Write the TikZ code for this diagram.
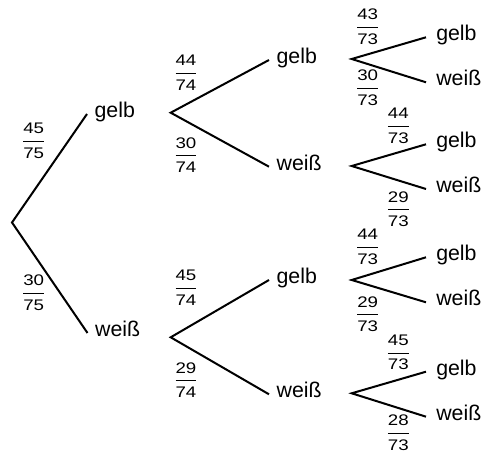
\documentclass[tikz,border=0pt]{standalone}
\usepackage{fontspec}
\setmainfont{Liberation Sans}
\newfontfamily\bruchfont[FakeStretch=1.22]{Liberation Sans}
\usetikzlibrary{positioning}
\newcommand{\bruch}[2]{{\renewcommand{\arraystretch}{0}\setlength{\arrayrulewidth}{0.8pt}%
  \begin{tabular}{@{}c@{}}\rule[-5.5pt]{0pt}{8pt}#1\\\hline\rule{0pt}{12.2pt}#2\end{tabular}}}
\tikzset{
  erg/.style={anchor=west, inner xsep=5.5pt, inner ysep=0pt, font=\fontsize{16}{19}\selectfont, text height=0.72em, text depth=0.21em},
  blatt/.style={erg, inner xsep=7.5pt},
  wk/.style={inner sep=0pt, font=\bruchfont\fontsize{11.5}{12}\selectfont},
  ast/.style={line width=1.5pt, draw=black},
}
\begin{document}
\begin{tikzpicture}[x=0.75pt, y=-0.75pt]
  \useasboundingbox (0,0) rectangle (483,452);
  % Wurzel und Verzweigungspunkte
  \coordinate (s) at (12,222.5);
  \coordinate (gv) at (170.7,112.7);
  \coordinate (wv) at (170.7,337.3);
  \coordinate (ggv) at (351.7,59);
  \coordinate (gwv) at (351.7,166);
  \coordinate (wgv) at (351.7,280);
  \coordinate (wwv) at (351.7,393.3);
  % 1. Zug
  \node[erg] (g) at (87,114) {gelb};
  \node[erg] (w) at (87.5,333) {weiß};
  % 2. Zug
  \node[erg] (gg) at (269,60) {gelb};
  \node[erg] (gw) at (269,166.7) {weiß};
  \node[erg] (wg) at (269,280) {gelb};
  \node[erg] (ww) at (269,394.3) {weiß};
  % 3. Zug
  \node[blatt] (ggg) at (426,37.3) {gelb};
  \node[blatt] (ggw) at (426,82.3) {weiß};
  \node[blatt] (gwg) at (426,144.3) {gelb};
  \node[blatt] (gww) at (426,189) {weiß};
  \node[blatt] (wgg) at (426,257.3) {gelb};
  \node[blatt] (wgw) at (426,302.3) {weiß};
  \node[blatt] (wwg) at (426,371.7) {gelb};
  \node[blatt] (www) at (426,416.7) {weiß};
  % Äste
  \draw[ast] (g.west) -- (s) -- (w.west);
  \draw[ast] (gg.west) -- (gv) -- (gw.west);
  \draw[ast] (wg.west) -- (wv) -- (ww.west);
  \draw[ast] (ggg.west) -- (ggv) -- (ggw.west);
  \draw[ast] (gwg.west) -- (gwv) -- (gww.west);
  \draw[ast] (wgg.west) -- (wgv) -- (wgw.west);
  \draw[ast] (wwg.west) -- (wwv) -- (www.west);
  % Wahrscheinlichkeiten
  \node[wk] (p1) at (33.7,140.8) {\bruch{45}{75}};
  \node[wk] (p2) at (33.7,292.4) {\bruch{30}{75}};
  \node[wk] (p3) at (186,72.4) {\bruch{44}{74}};
  \node[wk] (p4) at (186,155) {\bruch{30}{74}};
  \node[wk] (p5) at (186,287.4) {\bruch{45}{74}};
  \node[wk] (p6) at (186,380) {\bruch{29}{74}};
  \node[wk] (p7) at (367.7,26.8) {\bruch{43}{73}};
  \node[wk] (p8) at (367.7,87.4) {\bruch{30}{73}};
  \node[wk] (p9) at (398.3,125.8) {\bruch{44}{73}};
  \node[wk] (p10) at (398.3,209.1) {\bruch{29}{73}};
  \node[wk] (p11) at (367.7,246.8) {\bruch{44}{73}};
  \node[wk] (p12) at (367.7,314.1) {\bruch{29}{73}};
  \node[wk] (p13) at (398.3,352.4) {\bruch{45}{73}};
  \node[wk] (p14) at (398.3,432.4) {\bruch{28}{73}};
\end{tikzpicture}
\end{document}
